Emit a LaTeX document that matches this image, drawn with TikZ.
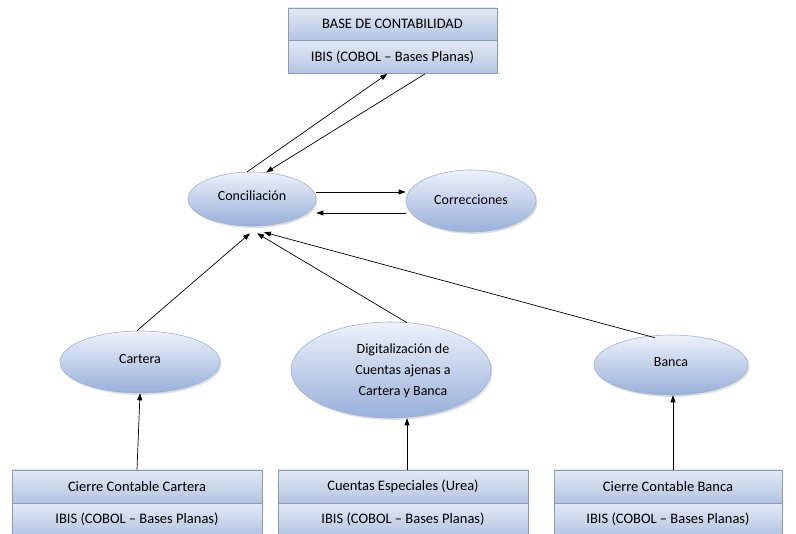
\documentclass[tikz,border=0pt]{standalone}
\usepackage{fontspec}
\setmainfont{Carlito}
\usetikzlibrary{arrows.meta,shapes.geometric,shadows,calc}

\definecolor{edgegray}{HTML}{8C9BB5}
\definecolor{boxtop}{HTML}{E2E9F4}
\definecolor{boxbot}{HTML}{B3C4E2}
\definecolor{elltop}{HTML}{EEF2FA}
\definecolor{ellbot}{HTML}{98B0DA}
\definecolor{ellline}{HTML}{9DB2D6}

\tikzset{
  half/.style={rectangle, draw=edgegray, line width=0.6pt, inner sep=0pt,
    top color=boxtop, bottom color=boxbot,
    font=\fontsize{14.5}{16}\selectfont},
  oval/.style={ellipse, draw=ellline, line width=0.6pt, inner sep=0pt,
    top color=elltop, bottom color=ellbot,
    drop shadow={opacity=0.25, shadow xshift=1.5pt, shadow yshift=-2pt},
    font=\fontsize{14}{21}\selectfont, align=center},
  link/.style={draw=black, line width=0.7pt, -{Triangle[length=7pt,width=5pt]}}
}

\begin{document}
\begin{tikzpicture}[x=1pt,y=-1pt]
\useasboundingbox (0,0) rectangle (796,534);

% Source / target record boxes (title above, storage below)
\node[half, minimum width=209pt, minimum height=32pt] (base) at (392.5,24) {BASE DE CONTABILIDAD};
\node[half, minimum width=209pt, minimum height=33pt, anchor=north] (baseibis) at (base.south) {IBIS (COBOL – Bases Planas)};

\node[half, minimum width=250pt, minimum height=33pt] (cc) at (137,486.5) {Cierre Contable Cartera};
\node[half, minimum width=250pt, minimum height=32pt, anchor=north] (ccibis) at (cc.south) {IBIS (COBOL – Bases Planas)};

\node[half, minimum width=250pt, minimum height=33pt] (ce) at (403,486.5) {Cuentas Especiales (Urea)};
\node[half, minimum width=250pt, minimum height=32pt, anchor=north] (ceibis) at (ce.south) {IBIS (COBOL – Bases Planas)};

\node[half, minimum width=228pt, minimum height=33pt] (cb) at (668,486.5) {Cierre Contable Banca};
\node[half, minimum width=228pt, minimum height=32pt, anchor=north] (cbibis) at (cb.south) {IBIS (COBOL – Bases Planas)};

% Processes
\node[oval, minimum width=128pt, minimum height=54pt] (conc) at (252,199) {\raisebox{6pt}{Conciliación}};
\node[oval, minimum width=130pt, minimum height=62pt] (corr) at (471,201) {\raisebox{3pt}{Correcciones}};
\node[oval, minimum width=160pt, minimum height=62pt] (cart) at (140,362) {\raisebox{6pt}{Cartera}};
\node[oval, minimum width=200pt, minimum height=96pt] (digi) at (391,370)
  {\hspace*{24pt}\raisebox{-4pt}{\begin{tabular}{@{}c@{}}Digitalización de\\Cuentas ajenas a\\Cartera y Banca\end{tabular}}};
\node[oval, minimum width=154pt, minimum height=60pt] (banc) at (671,365) {\raisebox{6pt}{Banca}};

% Flows between base and reconciliation
\draw[link] (conc.100) -- ($(baseibis.south west)!0.475!(baseibis.south east)$);
\draw[link] ($(baseibis.south west)!0.655!(baseibis.south east)$) -- (conc.62);
\draw[link] ($(conc.east)+(0,-7)$) -- ($(corr.west)+(0,-9)$);
\draw[link] ($(corr.west)+(0,12)$) -- ($(conc.east)+(0,14)$);

% Inputs to reconciliation
\coordinate (cartTop) at ($(cart.north)+(-3,0)$);
\coordinate (digiTop) at ($(digi.north)+(16,1)$);
\coordinate (bancTop) at ($(banc.north)+(-16,3)$);
\draw[link] (cartTop) -- ($(conc.south)+(-2,7)$);
\draw[link] (digiTop) -- ($(conc.south)+(5,7)$);
\draw[link] (bancTop) -- ($(conc.south)+(12,6)$);

% Feeds from record boxes
\coordinate (ceTop) at ($(ce.north)+(4,0)$);
\coordinate (cbTop) at ($(cb.north)+(5,0)$);
\draw[link] (cc.north) -- (cart.south);
\draw[link] (ceTop) -- ($(digi.south)+(16,0)$);
\draw[link] (cbTop) -- ($(banc.south)+(2,0)$);
\end{tikzpicture}
\end{document}
